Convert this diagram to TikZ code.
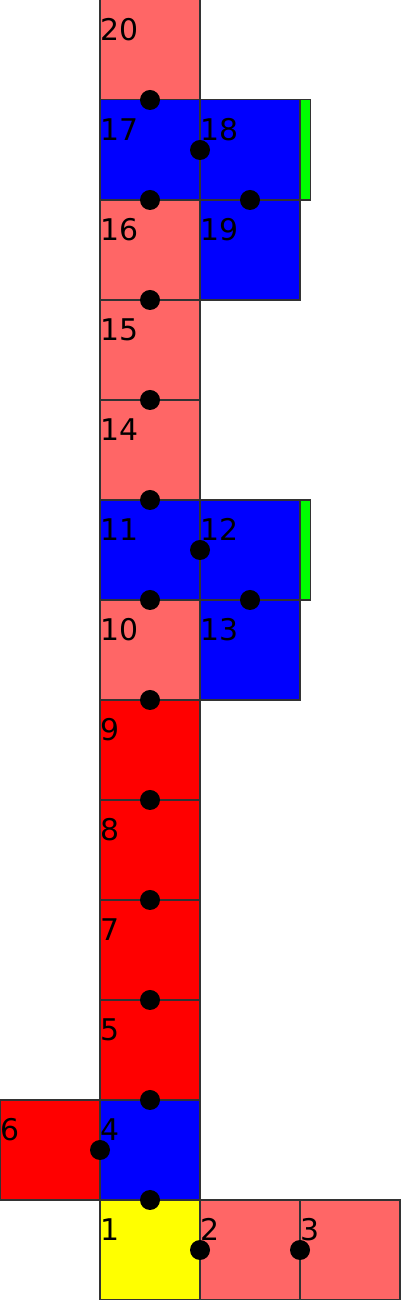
\documentclass[tikz,border=0pt]{standalone}
\usepackage{fontspec}
\setmainfont{DejaVu Sans}
\usepackage{xcolor}
\definecolor{cellpink}{RGB}{255,102,102}
\definecolor{cellred}{RGB}{255,0,0}
\definecolor{cellblue}{RGB}{0,0,255}
\definecolor{cellyellow}{RGB}{255,255,0}
\definecolor{cellgreen}{RGB}{0,255,0}
\usetikzlibrary{positioning}

\begin{document}
\begin{tikzpicture}[
    cell/.style={rectangle, draw=black!80, line width=0.3pt, minimum size=1cm,
                 inner sep=0pt, outer sep=0pt},
    num/.style={label={[anchor=north west, inner sep=0pt, yshift=-0.18cm,
                 font=\fontsize{8.5}{10}\selectfont]north west:#1}},
    strip/.style={rectangle, draw=black!80, line width=0.3pt, fill=cellgreen,
                  minimum width=0.1cm, minimum height=1cm, inner sep=0pt, anchor=west},
    joint/.style={circle, fill=black, minimum size=2mm, inner sep=0pt}
  ]
    \useasboundingbox (0,0) rectangle (4,13);

    % bottom row
    \node[cell, fill=cellyellow, num=1] (b1) at (1.5,0.5) {};
    \node[cell, fill=cellpink,   num=2] (b2) at (2.5,0.5) {};
    \node[cell, fill=cellpink,   num=3] (b3) at (3.5,0.5) {};
    % second row
    \node[cell, fill=cellred,    num=6] (b6) at (0.5,1.5) {};
    \node[cell, fill=cellblue,   num=4] (b4) at (1.5,1.5) {};
    % red column
    \node[cell, fill=cellred,    num=5] (b5) at (1.5,2.5) {};
    \node[cell, fill=cellred,    num=7] (b7) at (1.5,3.5) {};
    \node[cell, fill=cellred,    num=8] (b8) at (1.5,4.5) {};
    \node[cell, fill=cellred,    num=9] (b9) at (1.5,5.5) {};
    % lower blue block
    \node[cell, fill=cellpink,   num=10] (b10) at (1.5,6.5) {};
    \node[cell, fill=cellblue,   num=13] (b13) at (2.5,6.5) {};
    \node[cell, fill=cellblue,   num=11] (b11) at (1.5,7.5) {};
    \node[cell, fill=cellblue,   num=12] (b12) at (2.5,7.5) {};
    \node[strip] (g12) at (b12.east) {};
    % pink column
    \node[cell, fill=cellpink,   num=14] (b14) at (1.5,8.5) {};
    \node[cell, fill=cellpink,   num=15] (b15) at (1.5,9.5) {};
    % upper blue block
    \node[cell, fill=cellpink,   num=16] (b16) at (1.5,10.5) {};
    \node[cell, fill=cellblue,   num=19] (b19) at (2.5,10.5) {};
    \node[cell, fill=cellblue,   num=17] (b17) at (1.5,11.5) {};
    \node[cell, fill=cellblue,   num=18] (b18) at (2.5,11.5) {};
    \node[strip] (g18) at (b18.east) {};
    % top
    \node[cell, fill=cellpink,   num=20] (b20) at (1.5,12.5) {};

    % joints
    \node[joint] (j1)  at (b20.south) {};
    \node[joint] (j2)  at (b17.east)  {};
    \node[joint] (j3)  at (b17.south) {};
    \node[joint] (j4)  at (b18.south) {};
    \node[joint] (j5)  at (b16.south) {};
    \node[joint] (j6)  at (b15.south) {};
    \node[joint] (j7)  at (b14.south) {};
    \node[joint] (j8)  at (b11.east)  {};
    \node[joint] (j9)  at (b11.south) {};
    \node[joint] (j10) at (b12.south) {};
    \node[joint] (j11) at (b10.south) {};
    \node[joint] (j12) at (b9.south)  {};
    \node[joint] (j13) at (b8.south)  {};
    \node[joint] (j14) at (b7.south)  {};
    \node[joint] (j15) at (b5.south)  {};
    \node[joint] (j16) at (b4.west)   {};
    \node[joint] (j17) at (b4.south)  {};
    \node[joint] (j18) at (b1.east)   {};
    \node[joint] (j19) at (b2.east)   {};
  \end{tikzpicture}
\end{document}
